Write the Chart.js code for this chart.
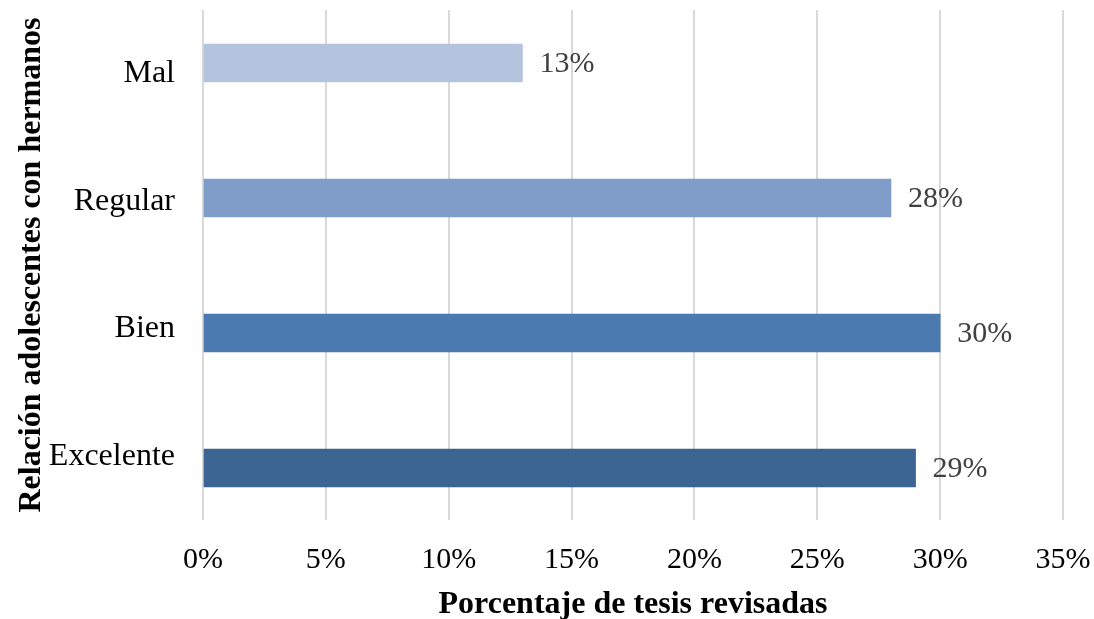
<!DOCTYPE html>
<html>
<head>
<meta charset="utf-8">
<script src="https://cdn.jsdelivr.net/npm/chart.js@4"></script>
<style>
html,body{margin:0;padding:0;background:#fff;}
#wrap{width:1094px;height:619px;position:relative;}
</style>
</head>
<body>
<div id="wrap"><canvas id="c" width="1094" height="619"></canvas></div>
<script>
const categories = ["Mal", "Regular", "Bien", "Excelente"];
const values = [13, 28, 30, 29];
const barColors = ["#b4c4de", "#7f9dc8", "#4a7aaf", "#3d6594"];
const xTicks = [0, 5, 10, 15, 20, 25, 30, 35];
const xTitle = "Porcentaje de tesis revisadas";
const yTitle = "Relación adolescentes con hermanos";

const FONT = "'Liberation Serif', 'Times New Roman', serif";

const points = values.map((v, i) => ({ x: v, y: i }));

const labelPlugin = {
  id: 'valueLabels',
  afterDatasetsDraw(chart) {
    const ctx = chart.ctx;
    const meta = chart.getDatasetMeta(0);
    ctx.save();
    ctx.font = "30px " + FONT;
    ctx.fillStyle = "#404040";
    ctx.textAlign = "left";
    ctx.textBaseline = "middle";
    meta.data.forEach((el, i) => {
      ctx.fillText(values[i] + "%", el.x + 17, el.y + 1);
    });
    ctx.restore();
  }
};

function zeroPad(scale) {
  scale.paddingTop = 0; scale.paddingBottom = 0;
  scale.paddingLeft = 0; scale.paddingRight = 0;
}

new Chart(document.getElementById('c'), {
  type: 'bar',
  data: {
    labels: categories,
    datasets: [{
      data: points,
      yAxisID: 'yb',
      backgroundColor: barColors,
      barThickness: 38,
      borderWidth: 0
    }]
  },
  options: {
    indexAxis: 'y',
    responsive: false,
    animation: false,
    layout: { padding: { top: 10, right: 31, left: 0, bottom: 0 } },
    plugins: { legend: { display: false }, tooltip: { enabled: false } },
    scales: {
      x: {
        type: 'linear',
        min: 0, max: 35,
        offset: false,
        afterBuildTicks(scale) { scale.ticks = xTicks.map(v => ({ value: v })); },
        afterFit(scale) { scale.height = 99; zeroPad(scale); },
        ticks: {
          callback: v => v + "%",
          color: "#000",
          font: { family: FONT, size: 30 },
          padding: 22,
          maxRotation: 0
        },
        grid: { color: "#d9d9d9", lineWidth: 2, drawTicks: false, offset: false },
        border: { display: false },
        title: {
          display: true,
          text: xTitle,
          color: "#000",
          font: { family: FONT, size: 32, weight: 'bold', lineHeight: 1 },
          padding: { top: 0, bottom: -2 }
        }
      },
      y: {
        type: 'category',
        position: 'left',
        labels: categories,
        offset: true,
        afterFit(scale) { scale.width = 203; zeroPad(scale); },
        ticks: {
          color: "#000",
          font: { family: FONT, size: 32 },
          padding: 28,
          autoSkip: false
        },
        grid: { display: false, drawTicks: false },
        border: { display: false },
        title: {
          display: true,
          text: yTitle,
          color: "#000",
          font: { family: FONT, size: 32, weight: 'bold', lineHeight: 1 },
          padding: { top: 16, bottom: 0 }
        }
      },
      yb: {
        type: 'linear',
        display: false,
        position: 'left',
        reverse: true,
        offset: false,
        min: -0.3926,
        max: 3.3852,
        grid: { display: false }
      }
    }
  },
  plugins: [labelPlugin]
});
</script>
</body>
</html>
